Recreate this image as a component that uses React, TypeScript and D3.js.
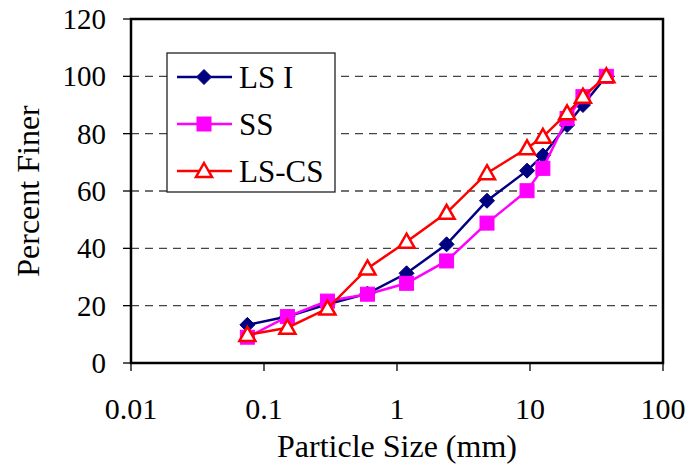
import React from "react";
import * as d3 from "d3";

const sieveSizes = [0.075, 0.15, 0.3, 0.6, 1.18, 2.36, 4.75, 9.5, 12.5, 19, 25, 37.5];
const lsI = [13.3, 16.2, 20.5, 24.2, 31.3, 41.4, 56.6, 67.1, 72.4, 83, 90, 100];
const ss = [9, 16.2, 21.6, 24, 27.8, 35.6, 48.8, 60.1, 67.9, 85.3, 92.9, 100];
const lsCs = [9.8, 12.3, 19, 33, 42.3, 52.4, 66.2, 74.9, 78.9, 87.1, 92.9, 100];
const xTicks = [0.01, 0.1, 1, 10, 100];
const xTickLabels = ["0.01", "0.1", "1", "10", "100"];
const yTicks = [0, 20, 40, 60, 80, 100, 120];
const seriesNames = ["LS I", "SS", "LS-CS"];

const W = 691, H = 465;
const L = 131, R = 663, T = 19, B = 363;
const FONT = "'Liberation Serif', 'Times New Roman', serif";

const series = [
  { name: seriesNames[0], values: lsI, color: "#000080", marker: "diamond" },
  { name: seriesNames[1], values: ss, color: "#FF00FF", marker: "square" },
  { name: seriesNames[2], values: lsCs, color: "#FF0000", marker: "triangle" },
];

function Marker({ type, x, y, color }: { type: string; x: number; y: number; color: string }) {
  if (type === "diamond") {
    const s = 7.5;
    return <path d={`M${x},${y - s}L${x + s},${y}L${x},${y + s}L${x - s},${y}Z`} fill={color} stroke={color} strokeWidth={1} />;
  }
  if (type === "square") {
    const s = 7;
    return <rect x={x - s} y={y - s} width={2 * s} height={2 * s} fill={color} stroke={color} strokeWidth={1} />;
  }
  const s = 8;
  return (
    <path
      d={`M${x},${y - s}L${x + s},${y + s * 0.75}L${x - s},${y + s * 0.75}Z`}
      fill="white"
      stroke={color}
      strokeWidth={2.5}
      strokeLinejoin="miter"
    />
  );
}

export default function App() {
  const x = d3.scaleLog().domain([0.01, 100]).range([L, R]);
  const y = d3.scaleLinear().domain([0, 120]).range([B, T]);
  const line = d3
    .line<[number, number]>()
    .x((d) => x(d[0]))
    .y((d) => y(d[1]));

  const legendRows = [77, 124, 171];

  return (
    <svg
      width={W}
      height={H}
      style={{ position: "absolute", left: 0, top: 0, background: "white" }}
      fontFamily={FONT}
    >
      <rect x={0} y={0} width={W} height={H} fill="white" />
      {/* gridlines */}
      {yTicks
        .filter((t) => t > 0 && t < 120)
        .map((t) => (
          <line key={t} x1={L} x2={R} y1={y(t)} y2={y(t)} stroke="#444" strokeWidth={1.3} strokeDasharray="8,6" />
        ))}
      {/* y ticks */}
      {yTicks.map((t) => (
        <g key={t}>
          <line x1={L - 8} x2={L} y1={y(t)} y2={y(t)} stroke="black" strokeWidth={1.3} />
          <text x={106} y={y(t)} dy="0.35em" textAnchor="end" fontSize={29} fill="black">
            {t}
          </text>
        </g>
      ))}
      {/* x ticks */}
      {xTicks.map((t, i) => (
        <g key={t}>
          <line x1={x(t)} x2={x(t)} y1={B} y2={B + 8} stroke="black" strokeWidth={1.3} />
          <text x={x(t)} y={419} textAnchor="middle" fontSize={30} fill="black">
            {xTickLabels[i]}
          </text>
        </g>
      ))}
      {/* plot frame */}
      <rect x={L} y={T} width={R - L} height={B - T} fill="none" stroke="black" strokeWidth={2.5} />
      {/* series */}
      {series.map((s) => {
        const pts: [number, number][] = sieveSizes.map((d, i) => [d, s.values[i]]);
        return (
          <g key={s.name}>
            <path d={line(pts) || ""} fill="none" stroke={s.color} strokeWidth={2.5} />
            {pts.map((p, i) => (
              <Marker key={i} type={s.marker} x={x(p[0])} y={y(p[1])} color={s.color} />
            ))}
          </g>
        );
      })}
      {/* legend */}
      <rect x={167} y={53} width={168} height={139} fill="white" stroke="#222" strokeWidth={1.3} />
      {series.map((s, i) => (
        <g key={s.name}>
          <line x1={177} x2={232} y1={legendRows[i]} y2={legendRows[i]} stroke={s.color} strokeWidth={2.5} />
          <Marker type={s.marker} x={204} y={legendRows[i]} color={s.color} />
          <text x={239} y={legendRows[i]} dy="0.35em" fontSize={31} fill="black">
            {s.name}
          </text>
        </g>
      ))}
      {/* axis titles */}
      <text x={(L + R) / 2} y={457} textAnchor="middle" fontSize={32} fill="black">
        Particle Size (mm)
      </text>
      <text transform={`translate(39,${(T + B) / 2}) rotate(-90)`} textAnchor="middle" fontSize={32} fill="black">
        Percent Finer
      </text>
    </svg>
  );
}
